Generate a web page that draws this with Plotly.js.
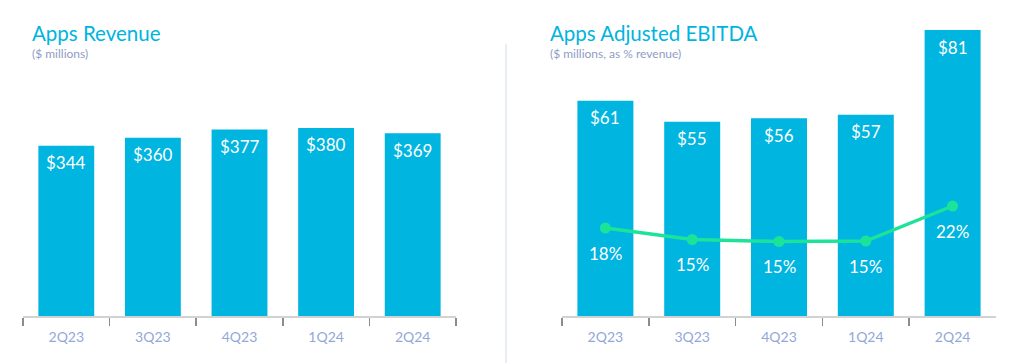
<!DOCTYPE html>
<html>
<head>
<meta charset="utf-8">
<script src="https://cdn.plot.ly/plotly-3.0.1.min.js"></script>
<style>html,body{margin:0;padding:0;background:#fff;}#chart{width:1015px;height:363px;}</style>
</head>
<body>
<div id="chart"></div>
<script>
const quarters = ["2Q23", "3Q23", "4Q23", "1Q24", "2Q24"];
const revenue = [344, 360, 377, 380, 369];
const ebitda = [61, 55, 56, 57, 81];
const ebitdaMargin = [17.6, 15.3, 14.9, 15.0, 22.0];

const BAR = "#00B5E0";
const LINE = "#1DE39A";
const TITLE = "#00B4E0";
const SUB = "#909CC4";
const TICK = "#93A8D8";
const FONT = "Lato, 'Open Sans', sans-serif";

const W = 1015, H = 363;
const px = v => v / W;
const py = v => (H - v) / H;

const traces = [
  {type: "bar", x: quarters, y: revenue, xaxis: "x", yaxis: "y",
   marker: {color: BAR}, hoverinfo: "none"},
  {type: "bar", x: quarters, y: ebitda, xaxis: "x2", yaxis: "y2",
   marker: {color: BAR}, hoverinfo: "none"},
  {type: "scatter", mode: "lines+markers", x: quarters, y: ebitdaMargin,
   xaxis: "x2", yaxis: "y3",
   line: {color: LINE, width: 3.5}, marker: {color: LINE, size: 11},
   hoverinfo: "none", cliponaxis: false}
];

const annotations = [];
revenue.forEach((v, i) => annotations.push({
  xref: "x", yref: "y", x: quarters[i], y: v, yshift: -17,
  text: "$" + v, showarrow: false, yanchor: "middle",
  font: {family: FONT, size: 17, color: "#ffffff"}
}));
ebitda.forEach((v, i) => annotations.push({
  xref: "x2", yref: "y2", x: quarters[i], y: v, yshift: -17,
  text: "$" + v, showarrow: false, yanchor: "middle",
  font: {family: FONT, size: 17, color: "#ffffff"}
}));
ebitdaMargin.forEach((v, i) => annotations.push({
  xref: "x2", yref: "y3", x: quarters[i], y: v, yshift: -25,
  text: Math.round(v) + "%", showarrow: false, yanchor: "middle",
  font: {family: FONT, size: 17, color: "#ffffff"}
}));
const titles = [
  {x: 30, y: 33, text: "Apps Revenue", size: 20.5, color: TITLE},
  {x: 30, y: 54, text: "($ millions)", size: 12, color: SUB},
  {x: 548, y: 33, text: "Apps Adjusted EBITDA", size: 20.5, color: TITLE},
  {x: 548, y: 54, text: "($ millions, as % revenue)", size: 12, color: SUB}
];
titles.forEach(t => annotations.push({
  xref: "paper", yref: "paper", x: px(t.x), y: py(t.y), xanchor: "left", yanchor: "middle",
  text: t.text, showarrow: false, font: {family: FONT, size: t.size, color: t.color}
}));

const xaxisBase = {
  type: "category", range: [-0.5, 4.5], fixedrange: true,
  showline: true, linecolor: "#D2D2D2", linewidth: 1.5,
  ticks: "outside", tickson: "boundaries", ticklen: 8, tickwidth: 1.5, tickcolor: "#8C8C8C",
  ticklabelstandoff: 8,
  tickfont: {family: FONT, size: 14, color: TICK}, showgrid: false, zeroline: false
};
const yBase = {showgrid: false, zeroline: false, showticklabels: false, showline: false, ticks: "", fixedrange: true};
const yDom = [py(316), py(20)];

const layout = {
  width: W, height: H, margin: {l: 0, r: 0, t: 0, b: 0},
  paper_bgcolor: "#ffffff", plot_bgcolor: "rgba(0,0,0,0)",
  showlegend: false, bargap: 0.355,
  xaxis: Object.assign({}, xaxisBase, {domain: [px(23), px(456)], anchor: "y"}),
  yaxis: Object.assign({}, yBase, {domain: yDom, range: [0, 296 / 0.495], anchor: "x"}),
  xaxis2: Object.assign({}, xaxisBase, {domain: [px(562), px(996)], anchor: "y2"}),
  yaxis2: Object.assign({}, yBase, {domain: yDom, range: [0, 296 / 3.53], anchor: "x2"}),
  yaxis3: Object.assign({}, yBase, {overlaying: "y2", range: [0, 296 / 5.0], anchor: "x2", side: "right"}),
  annotations: annotations,
  shapes: [{type: "line", xref: "paper", yref: "paper", x0: px(506), x1: px(506), y0: py(44), y1: 0,
    line: {color: "#E9EEF5", width: 2}}]
};

Plotly.newPlot("chart", traces, layout, {displayModeBar: false, staticPlot: true});
</script>
</body>
</html>
